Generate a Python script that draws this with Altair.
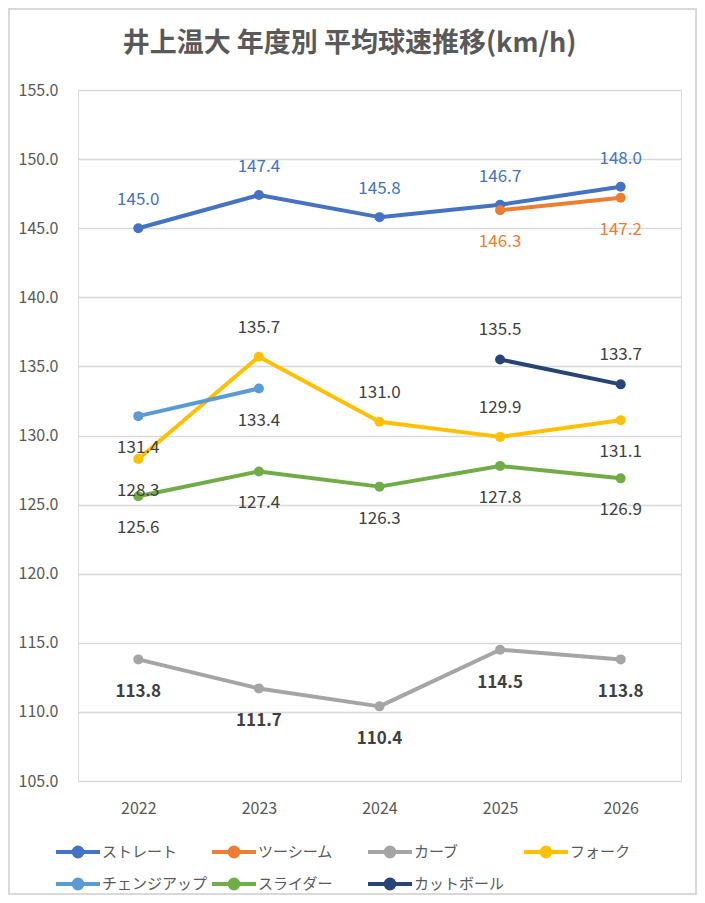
import altair as alt
import pandas as pd

years = ["2022", "2023", "2024", "2025", "2026"]
series_names = ["ストレート", "ツーシーム", "カーブ", "フォーク", "チェンジアップ", "スライダー", "カットボール"]
straight = [145.0, 147.4, 145.8, 146.7, 148.0]
two_seam = [None, None, None, 146.3, 147.2]
curve = [113.8, 111.7, 110.4, 114.5, 113.8]
fork = [128.3, 135.7, 131.0, 129.9, 131.1]
changeup = [131.4, 133.4, None, None, None]
slider = [125.6, 127.4, 126.3, 127.8, 126.9]
cutter = [None, None, None, 135.5, 133.7]
series_values = [straight, two_seam, curve, fork, changeup, slider, cutter]
colors = ["#4472C4", "#ED7D31", "#A5A5A5", "#FFC000", "#5B9BD5", "#70AD47", "#264478"]

# label placement (style): which labels sit above their point
above = {"ストレート": set(years), "カットボール": set(years), "フォーク": {"2023", "2024", "2025"}}

rows = []
for name, vals in zip(series_names, series_values):
    for y, v in zip(years, vals):
        if v is not None:
            rows.append({"year": y, "series": name, "value": v,
                         "pos": "above" if y in above.get(name, set()) else "below"})
df = pd.DataFrame(rows)

FONT = "Noto Sans CJK JP"
W, H = 603, 691
PL, PT, PR, PB = 70, 82, 16, 114

x = alt.X("year:O", scale=alt.Scale(type="point", padding=0.5),
          axis=alt.Axis(title=None, labelAngle=0, domain=False, ticks=False,
                        labelFontSize=16, labelColor="#595959", labelPadding=19, grid=False))
y = alt.Y("value:Q", scale=alt.Scale(domain=[105, 155], zero=False, nice=False),
          axis=alt.Axis(title=None, values=[105, 110, 115, 120, 125, 130, 135, 140, 145, 150, 155],
                        format=".1f", domain=False, ticks=False, labelFontSize=16,
                        labelColor="#595959", labelPadding=20, gridColor="#D9D9D9", gridWidth=1.3))

sym_path = ("M-1,0L1,0M-0.2,0A0.2,0.2,0,1,1,0.2,0A0.2,0.2,0,1,1,-0.2,0Z")
color = alt.Color("series:N", scale=alt.Scale(domain=series_names, range=colors),
                  legend=alt.Legend(title=None, orient="none", legendX=-24, legendY=752,
                                    columns=4, direction="horizontal", gridAlign="all",
                                    symbolType=sym_path, symbolSize=1936, symbolStrokeWidth=4,
                                    labelFontSize=15, labelColor="#595959", labelFont=FONT,
                                    labelOffset=0, columnPadding=2, rowPadding=12, clipHeight=20,
                                    padding=0, labelLimit=300,
                                    symbolFillColor="#000000"))

base = alt.Chart(df)
lines = base.mark_line(strokeWidth=4, strokeCap="round", strokeJoin="round").encode(
    x=x, y=y, color=color, detail="series:N")
points = base.mark_point(filled=True, size=100, opacity=1).encode(
    x=x, y=y, color=alt.Color("series:N", scale=alt.Scale(domain=series_names, range=colors), legend=None),
    detail="series:N")


def labels(filter_expr, dy, col, weight="normal"):
    return base.transform_filter(filter_expr).mark_text(
        fontSize=17, font=FONT, dy=dy, baseline="middle", fontWeight=weight, color=col
    ).encode(x=alt.X("year:O", scale=alt.Scale(type="point", padding=0.5)),
             y=alt.Y("value:Q"), text=alt.Text("value:Q", format=".1f"))


txt = [
    labels("datum.series == 'ストレート'", -28, "#4472C4"),
    labels("datum.series == 'ツーシーム'", 32, "#ED7D31"),
    labels("datum.series == 'カーブ'", 33, "#404040", "bold"),
    labels("datum.series != 'ストレート' && datum.series != 'ツーシーム' && datum.series != 'カーブ' && datum.pos == 'above'", -29, "#404040"),
    labels("datum.series != 'ストレート' && datum.series != 'ツーシーム' && datum.series != 'カーブ' && datum.pos == 'below'", 32, "#404040"),
]

border = alt.Chart(pd.DataFrame({"a": [0]})).mark_rect(
    fill=None, stroke="#D9D9D9", strokeWidth=2).encode(
    x=alt.value(-PL + 1), x2=alt.value(W + PR - 1), y=alt.value(-PT + 1), y2=alt.value(H + PB - 1))

chart = alt.layer(border, lines, points, *txt).properties(
    width=W, height=H,
    autosize=alt.AutoSizeParams(type="none"),
    padding={"left": PL, "top": PT, "right": PR, "bottom": PB},
    title=alt.Title("井上温大 年度別 平均球速推移(km/h)", fontSize=27, font=FONT, fontWeight="bold",
                    color="#595959", anchor="middle", offset=-50, dx=-30),
).configure_view(stroke=None).configure(font=FONT, background="white").configure_axis(labelFont=FONT)

chart.save("out.html", embed_options={"renderer": "svg", "actions": False})
